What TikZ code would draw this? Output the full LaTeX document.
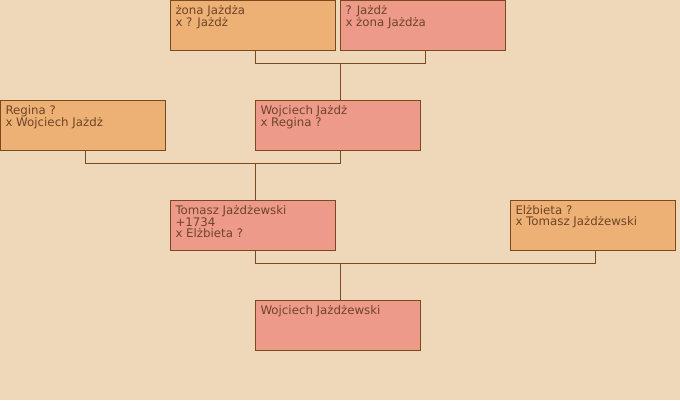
\documentclass[tikz,border=0pt]{standalone}
\usepackage{fontspec}
\setmainfont{DejaVu Sans}
\usetikzlibrary{calc}
\definecolor{bgc}{HTML}{EED8B9}
\definecolor{wife}{HTML}{EDB176}
\definecolor{husb}{HTML}{EE9A8A}
\definecolor{edge}{HTML}{7B4A1A}
\definecolor{txt}{HTML}{6E4526}
\newcommand{\boxtext}[1]{\parbox[t][40pt][t]{155pt}{\fontsize{11.8pt}{11pt}\selectfont\color{txt}\rule{0pt}{9pt}#1}}
\tikzset{
  person/.style={draw=edge, line width=1pt, anchor=north west, inner xsep=5pt, inner ysep=5pt,
    minimum width=165pt, minimum height=50pt, align=left},
  fem/.style={person, fill=wife},
  mal/.style={person, fill=husb},
  conn/.style={draw=edge, line width=1pt}
}
\begin{document}
\begin{tikzpicture}[x=1pt,y=-1pt]
\fill[bgc] (0,0) rectangle (680,400);
\useasboundingbox (0,0) rectangle (680,400);

\node[fem] (zona) at (170,0) {\boxtext{żona Jażdża\\x ? Jażdż}};
\node[mal] (jazdz) at (340,0) {\boxtext{? Jażdż\\x żona Jażdża}};
\node[fem] (regina) at (0,100) {\boxtext{Regina ?\\x Wojciech Jażdż}};
\node[mal] (wojciech) at (255,100) {\boxtext{Wojciech Jażdż\\x Regina ?}};
\node[mal] (tomasz) at (170,200) {\boxtext{Tomasz Jażdżewski\\+1734\\x Elżbieta ?}};
\node[fem] (elzbieta) at (510,200) {\boxtext{Elżbieta ?\\x Tomasz Jażdżewski}};
\node[mal] (wojj) at (255,300) {\boxtext{Wojciech Jażdżewski}};

% couple 1
\draw[conn] ($(zona.south west)+(85,0)$) |- ($(jazdz.south west)+(85,12)$) -- ($(jazdz.south west)+(85,0)$);
\draw[conn] ($(wojciech.north west)+(85,0)$) -- ($(zona.south west)+(170,12)$);
% couple 2
\draw[conn] ($(regina.south west)+(85,0)$) |- ($(wojciech.south west)+(85,12)$) -- ($(wojciech.south west)+(85,0)$);
\draw[conn] ($(tomasz.north west)+(85,0)$) -- ($(regina.south west)+(255,12)$);
% couple 3
\draw[conn] ($(tomasz.south west)+(85,0)$) |- ($(elzbieta.south west)+(85,12)$) -- ($(elzbieta.south west)+(85,0)$);
\draw[conn] ($(wojj.north west)+(85,0)$) -- ($(tomasz.south west)+(170,12)$);
\end{tikzpicture}
\end{document}
